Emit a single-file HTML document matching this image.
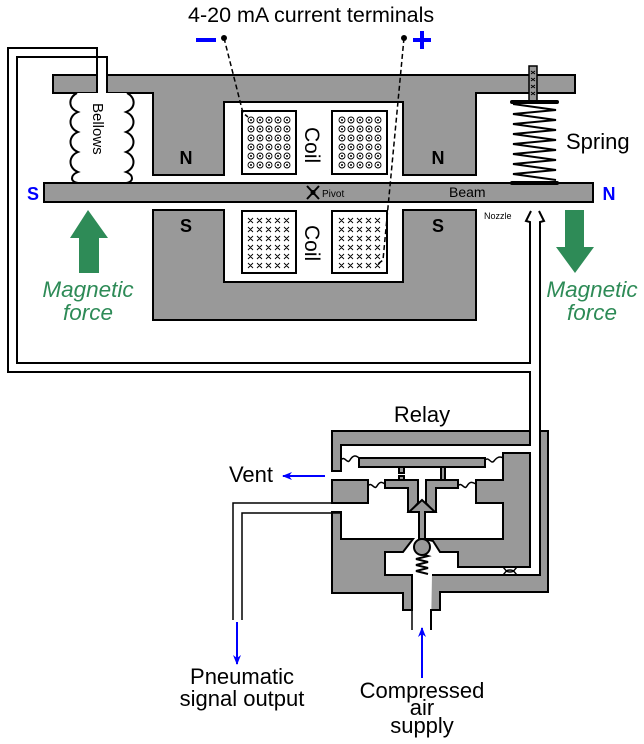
<!DOCTYPE html>
<html><head><meta charset="utf-8"><style>html,body{margin:0;padding:0;background:#fff}svg{display:block}</style></head>
<body>
<svg width="644" height="744" viewBox="0 0 644 744" xmlns="http://www.w3.org/2000/svg" font-family="Liberation Sans, sans-serif">
<defs>
<marker id="ab" markerWidth="10" markerHeight="8" refX="9" refY="4" orient="auto" markerUnits="userSpaceOnUse"><path d="M0,0 L10,4 L0,8 L3,4 Z" fill="#00f"/></marker>
</defs>
<g stroke="#000" stroke-width="2" fill="#999" stroke-linejoin="miter">
<path d="M53,75 H575 V93 H476 V175 H403 V102 H224 V175 H153 V93 H53 Z"/>
<path d="M153,210 H224 V282 H403 V210 H476 V320 H153 Z"/>
<rect x="44" y="183" width="549" height="19"/>
</g>
<rect x="98" y="73" width="8" height="22" fill="#fff"/>
<g stroke="#000" stroke-width="2" fill="none">
<path d="M97,93 V48 H8 V372 H530 V431"/>
<path d="M107,93 V57 H17 V363 H530 V222 L526,221 L531,211"/>
<path d="M540,431 V222 L544,221 L539,211"/>
</g>
<path d="M77,93 C68,98 68,108 78,112 C68,116 68,128 78,132 C68,136 68,148 78,152 C68,156 68,168 78,172 C70,175 70,182 78,183 L126,183 C134,182 134,175 126,172 C136,168 136,156 126,152 C136,148 136,136 126,132 C136,128 136,116 126,112 C136,108 136,98 127,93" fill="#fff" stroke="#000" stroke-width="2"/>
<text transform="translate(93,103) rotate(90)" font-size="15">Bellows</text>
<g stroke="#000" stroke-width="2" fill="#fff">
<rect x="242" y="111" width="54" height="63"/><rect x="332" y="111" width="55" height="63"/>
<rect x="242" y="211" width="54" height="62"/><rect x="332" y="211" width="55" height="62"/>
</g>
<g id="dots" stroke="#000" stroke-width="0.9" fill="none">
<g id="drow">
<circle cx="251" cy="120" r="3"/><circle cx="260" cy="120" r="3"/><circle cx="269" cy="120" r="3"/><circle cx="278" cy="120" r="3"/><circle cx="287" cy="120" r="3"/>
</g>
<use href="#drow" y="9"/><use href="#drow" y="18"/><use href="#drow" y="27"/><use href="#drow" y="36"/><use href="#drow" y="45"/>
</g>
<g fill="#000" id="dc"><g id="dcr"><circle cx="251" cy="120" r="1"/><circle cx="260" cy="120" r="1"/><circle cx="269" cy="120" r="1"/><circle cx="278" cy="120" r="1"/><circle cx="287" cy="120" r="1"/></g>
<use href="#dcr" y="9"/><use href="#dcr" y="18"/><use href="#dcr" y="27"/><use href="#dcr" y="36"/><use href="#dcr" y="45"/></g>
<use href="#dots" x="91"/><use href="#dc" x="91"/>
<g id="xs" stroke="#000" stroke-width="0.9" fill="none">
<path id="xrow" d="M248,218 l5,5 m0,-5 l-5,5 M257,218 l5,5 m0,-5 l-5,5 M266,218 l5,5 m0,-5 l-5,5 M275,218 l5,5 m0,-5 l-5,5 M284,218 l5,5 m0,-5 l-5,5"/>
<use href="#xrow" y="9"/><use href="#xrow" y="18"/><use href="#xrow" y="27"/><use href="#xrow" y="36"/><use href="#xrow" y="45"/>
</g>
<use href="#xs" x="91"/>
<text transform="translate(305,127) rotate(90)" font-size="21">Coil</text>
<text transform="translate(305,225) rotate(90)" font-size="21">Coil</text>
<g font-size="18" font-weight="bold" text-anchor="middle">
<text x="186" y="164">N</text><text x="438" y="164">N</text>
<text x="186" y="232">S</text><text x="438" y="232">S</text>
<text x="33" y="200" fill="#00f">S</text><text x="609" y="200" fill="#00f">N</text>
</g>
<g stroke="#000" stroke-width="2"><line x1="307" y1="186" x2="319" y2="199"/><line x1="319" y1="186" x2="307" y2="199"/></g>
<circle cx="313" cy="192.5" r="2.5"/>
<text x="322" y="197" font-size="10">Pivot</text>
<text x="449" y="197" font-size="14">Beam</text>
<text x="484" y="219" font-size="9">Nozzle</text>
<rect x="529" y="66" width="8" height="35" fill="#999" stroke="#000" stroke-width="1.5"/>
<g stroke="#000" stroke-width="1"><path d="M531,71 l4,3 m0,-3 l-4,3 M531,78 l4,3 m0,-3 l-4,3 M531,85 l4,3 m0,-3 l-4,3 M531,92 l4,3 m0,-3 l-4,3"/></g>
<path d="M513,104 L556,110 L513,114 L556,120 L513,124 L556,130 L513,134 L556,140 L513,144 L556,150 L513,154 L556,160 L513,164 L556,170 L513,174 L556,180" stroke="#000" stroke-width="2" fill="none"/>
<g stroke="#000" stroke-width="4" stroke-linecap="round"><line x1="512" y1="102" x2="557" y2="102"/><line x1="512" y1="183" x2="557" y2="183"/></g>
<text x="566" y="149" font-size="22">Spring</text>
<text x="188" y="22" font-size="21.5">4-20 mA current terminals</text>
<line x1="196" y1="40" x2="216" y2="40" stroke="#00f" stroke-width="4"/>
<path d="M422,31 V49 M413,40 H431" stroke="#00f" stroke-width="4"/>
<circle cx="224" cy="38" r="3"/><circle cx="404" cy="38" r="3"/>
<g stroke="#000" stroke-width="1.5" stroke-dasharray="5,3" fill="none">
<path d="M224,38 L243,113 L248,117"/>
<path d="M404,38 L383,260 L378,264"/>
</g>
<g fill="#2e8b57">
<path d="M88,210 L108,238 L99,238 V273 H79 V238 H70 Z"/>
<path d="M575,273 L594,247 L584,247 V210 H565 V247 H556 Z"/>
</g>
<g fill="#2e8b57" font-size="22.5" font-style="italic" text-anchor="middle">
<text x="88" y="297">Magnetic</text><text x="88" y="320">force</text>
<text x="592" y="297">Magnetic</text><text x="592" y="320">force</text>
</g>
<text x="422" y="422" font-size="22" text-anchor="middle">Relay</text>
<g stroke="#000" stroke-width="2" fill="#999">
<path d="M332,431 H530 V445 H341 V471 H332 Z"/>
<path d="M431,630 V610 H440 V592 H548 V431 H540 V575 H432"/>
<path d="M332,512 H341 V539 H413 L403,552 H385 V575 H412 V610 H403 V593 H332 Z"/>
<path d="M425,539 H503 V503 H476 V480 H503 V453 H530 V567 H458 V552 H440 L433,541 Z"/>
<rect x="332" y="480" width="36" height="23"/>
<rect x="359" y="458" width="126" height="9"/>
<path d="M385,480 H418 V503 L410,512 H408 V488 H385 Z"/>
<path d="M426,480 H458 V488 H436 V512 H434 L426,503 Z"/>
<path d="M422,500 L435,512 H425 V539 H419 V512 H409 Z"/>
<rect x="399" y="467" width="5" height="6"/><rect x="399" y="476" width="5" height="4"/>
<rect x="441" y="467" width="4" height="13"/>
</g>
<g stroke="#000" stroke-width="1.5" fill="none">
<path d="M341,460 c4,-5 6,5 9,0 s6,-5 9,-2"/>
<path d="M485,460 c4,-4 6,5 9,1 s6,-5 9,-3"/>
<path d="M368,486 c4,-5 6,5 9,0 s5,-4 8,-2"/>
<path d="M458,486 c4,-5 6,5 9,0 s5,-4 9,-2"/>
<path d="M418,553 L428,556 L416,559 L428,562 L416,565 L428,568 L416,571 L428,574" stroke-width="2"/>
<path d="M503,567 c3,3 3,5 7,5 s4,-2 7,-5 M503,575 c3,-3 3,-5 7,-5 s4,2 7,5"/>
<path d="M368,503 H233 V620 M341,513 H242 V620"/>
<path d="M412,610 V630"/>
</g>
<circle cx="422" cy="547" r="8" fill="#999" stroke="#000" stroke-width="2"/>
<g stroke="#00f" stroke-width="2" fill="none">
<line x1="325" y1="476" x2="283" y2="476" marker-end="url(#ab)"/>
<line x1="237" y1="622" x2="237" y2="664" marker-end="url(#ab)"/>
<line x1="422" y1="678" x2="422" y2="628" marker-end="url(#ab)"/>
</g>
<g font-size="22" text-anchor="middle">
<text x="251" y="482">Vent</text>
<text x="242" y="684">Pneumatic</text><text x="242" y="706">signal output</text>
<text x="422" y="698">Compressed</text><text x="422" y="715">air</text><text x="422" y="733">supply</text>
</g>
</svg>
</body></html>
